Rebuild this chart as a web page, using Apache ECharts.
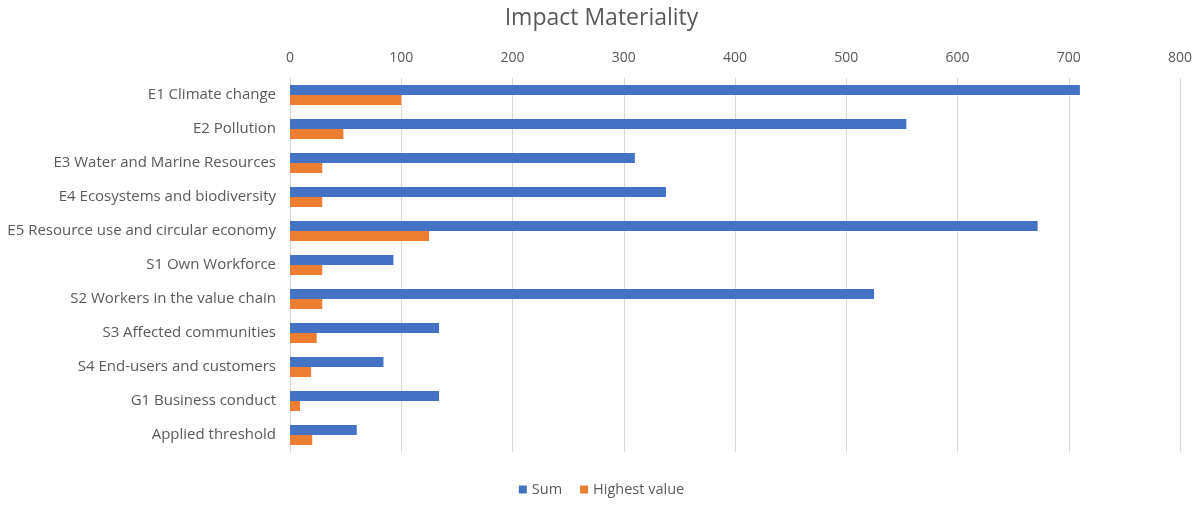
<!DOCTYPE html>
<html>
<head>
<meta charset="utf-8">
<script src="https://cdn.jsdelivr.net/npm/echarts@6/dist/echarts.min.js"></script>
<style>
  html, body { margin: 0; padding: 0; background: #fff; }
  #chart { width: 1203px; height: 505px; }
</style>
</head>
<body>
<div id="chart"></div>
<script>
var categories = ['E1 Climate change', 'E2 Pollution', 'E3 Water and Marine Resources',
    'E4 Ecosystems and biodiversity', 'E5 Resource use and circular economy', 'S1 Own Workforce',
    'S2 Workers in the value chain', 'S3 Affected communities', 'S4 End-users and customers',
    'G1 Business conduct', 'Applied threshold'];
var sumValues = [710, 554, 310, 338, 672, 93, 525, 134, 84, 134, 60];
var highestValues = [100, 48, 29, 29, 125, 29, 29, 24, 19, 9, 20];

var font = 'Open Sans';
var textColor = '#595959';

var option = {
    title: {
        text: 'Impact Materiality',
        left: 'center',
        top: 2,
        textStyle: { fontFamily: font, fontSize: 23, fontWeight: 'normal', color: textColor }
    },
    legend: {
        bottom: 3,
        left: 'center',
        itemWidth: 8,
        itemHeight: 8,
        itemGap: 18,
        icon: 'rect',
        textStyle: { fontFamily: font, fontSize: 14.5, color: textColor },
        data: ['Sum', 'Highest value']
    },
    grid: { left: 290, right: 23, top: 78, bottom: 53 },
    xAxis: {
        type: 'value',
        position: 'top',
        min: 0,
        max: 800,
        interval: 100,
        axisLine: { show: false },
        axisTick: { show: false },
        axisLabel: { fontFamily: font, fontSize: 14, color: textColor, margin: 13 },
        splitLine: { lineStyle: { color: '#d9d9d9' } }
    },
    yAxis: {
        type: 'category',
        inverse: true,
        data: categories,
        axisLine: { lineStyle: { color: '#d9d9d9' } },
        axisTick: { show: false },
        axisLabel: { fontFamily: font, fontSize: 15, color: textColor, margin: 14 }
    },
    series: [
        {
            name: 'Sum',
            type: 'bar',
            data: sumValues,
            barWidth: 10,
            barGap: '0%',
            itemStyle: { color: '#4472C4' }
        },
        {
            name: 'Highest value',
            type: 'bar',
            data: highestValues,
            barWidth: 10,
            barGap: '0%',
            itemStyle: { color: '#ED7D31' }
        }
    ]
};

var myChart = echarts.init(document.getElementById('chart'));
myChart.setOption(option);
</script>
</body>
</html>
